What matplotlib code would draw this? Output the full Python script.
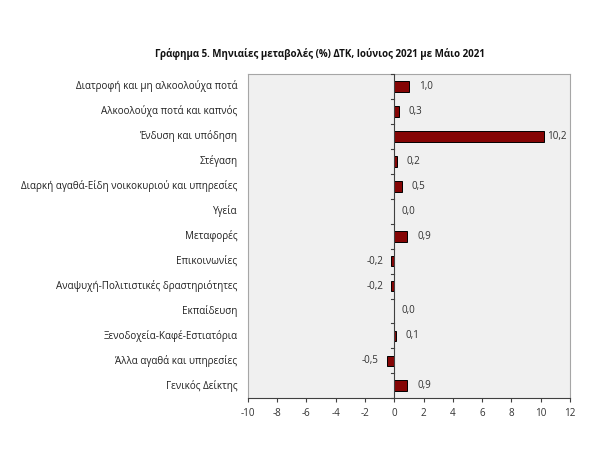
import matplotlib
matplotlib.use("Agg")
import matplotlib.pyplot as plt
import numpy as np

plt.rcParams['font.family'] = ['Open Sans', 'DejaVu Sans']

categories = [
    "Διατροφή και μη αλκοολούχα ποτά",
    "Αλκοολούχα ποτά και καπνός",
    "Ένδυση και υπόδηση",
    "Στέγαση",
    "Διαρκή αγαθά-Είδη νοικοκυριού και υπηρεσίες",
    "Υγεία",
    "Μεταφορές",
    "Επικοινωνίες",
    "Αναψυχή-Πολιτιστικές δραστηριότητες",
    "Εκπαίδευση",
    "Ξενοδοχεία-Καφέ-Εστιατόρια",
    "Άλλα αγαθά και υπηρεσίες",
    "Γενικός Δείκτης",
]
values = [1.0, 0.3, 10.2, 0.2, 0.5, 0.0, 0.9, -0.2, -0.2, 0.0, 0.1, -0.5, 0.9]
xticks = [-10, -8, -6, -4, -2, 0, 2, 4, 6, 8, 10, 12]
title = "Γράφημα 5. Μηνιαίες μεταβολές (%) ΔΤΚ, Ιούνιος 2021 με Μάιο 2021"

fig = plt.figure(figsize=(6, 4.54), dpi=100)
ax = fig.add_axes([0.413, 0.1227, 0.537, 0.7143])
ax.set_facecolor('#F0F0F0')

n = len(categories)
y = np.arange(n)
ax.barh(y, values, height=0.43, color='#850505', edgecolor='black', linewidth=0.7, zorder=3)
ax.set_ylim(n - 0.5, -0.5)
ax.set_xlim(-10, 12)
ax.set_xticks(xticks)
ax.set_xticklabels([str(t) for t in xticks], fontsize=7.1, color='#333333')
ax.set_yticks([])

for s in ['top', 'right', 'left']:
    ax.spines[s].set_color('#A6A6A6')
    ax.spines[s].set_linewidth(0.8)
ax.spines['bottom'].set_color('#404040')
ax.spines['bottom'].set_linewidth(0.8)
ax.tick_params(axis='x', length=3, width=0.8, color='#404040', pad=4)

# zero axis line with category tick marks
ax.axvline(0, color='#404040', linewidth=0.8, zorder=4)
for b in np.arange(-0.5, n, 1.0):
    ax.plot([-0.25, 0], [b, b], color='#404040', linewidth=0.8, zorder=4, clip_on=False)

value_texts = []
for yi, (cat, v) in enumerate(zip(categories, values)):
    ax.annotate(cat, (0, yi), xycoords=ax.get_yaxis_transform(), xytext=(-7.5, 0),
                textcoords='offset points', ha='right', va='center',
                fontsize=7.1, color='#222222')
    label = f"{v:.1f}".replace('.', ',')
    if v < 0:
        t = ax.annotate(label, (v, yi), xytext=(-6, 0), textcoords='offset points',
                        ha='right', va='center', fontsize=7.1, color='#333333')
    else:
        off = 5 if v == 0 else 7
        t = ax.annotate(label, (v, yi), xytext=(off, 0), textcoords='offset points',
                        ha='left', va='center', fontsize=7.1, color='#333333')
    value_texts.append(t)

fig.text(0.533, 0.881, title, ha='center', va='center', fontsize=7, fontweight='bold', color='#111111')

# keep value labels inside the plot area (as the original chart does)
fig.canvas.draw()
renderer = fig.canvas.get_renderer()
ax_right = ax.get_window_extent(renderer).x1
for t in value_texts:
    bb = t.get_window_extent(renderer)
    limit = ax_right - 3
    if bb.x1 > limit:
        dx_pt = (bb.x1 - limit) * 72.0 / fig.dpi
        ox, oy = t.xyann
        t.xyann = (ox - dx_pt, oy)

fig.savefig('out.png', dpi=100, facecolor='white')
